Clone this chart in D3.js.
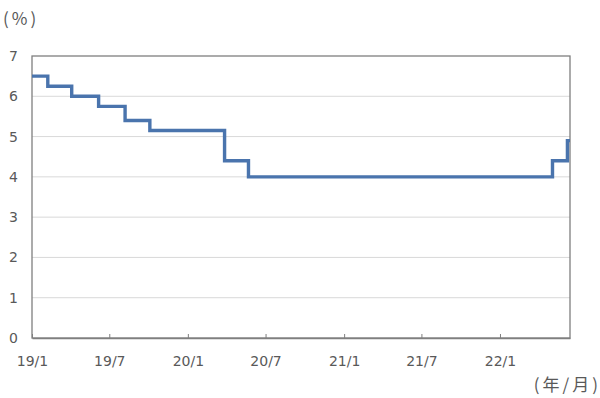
<!DOCTYPE html>
<html>
<head>
<meta charset="utf-8">
<script src="https://cdn.jsdelivr.net/npm/d3@7"></script>
<style>
  body { margin: 0; background: #fff; }
  text { font-family: "DejaVu Sans", "Noto Sans CJK JP", sans-serif; fill: #595959; }
</style>
</head>
<body>
<div id="chart"></div>
<script>
//Size of the picture.
let w = 600
let h = 398

//Plot area edges.
let margin = {left: 32, right: 30, top: 56, bottom: 60}

//Dates the rate changed (last one is the end of the data).
let changeDates = ["2019-01-01", "2019-02-07", "2019-04-04", "2019-06-06", "2019-08-07",
                   "2019-10-04", "2020-03-27", "2020-05-22", "2022-05-04", "2022-06-08", "2022-06-14"]

//Rate in effect from each date.
let rates = [6.5, 6.25, 6.0, 5.75, 5.4, 5.15, 4.4, 4.0, 4.4, 4.9, 4.9]

//Axis ticks.
let yTicks = [0, 1, 2, 3, 4, 5, 6, 7]
let xTickDates = ["2019-01-01", "2019-07-01", "2020-01-01", "2020-07-01",
                  "2021-01-01", "2021-07-01", "2022-01-01"]
let xTickLabels = ["19/1", "19/7", "20/1", "20/7", "21/1", "21/7", "22/1"]

let parse = d3.utcParse("%Y-%m-%d")
let data = changeDates.map((d, i) => ({date: parse(d), rate: rates[i]}))

const svg = d3.select("#chart")
              .append("svg")
              .attr("width", w)
              .attr("height", h)

let x = d3.scaleUtc()
          .domain([parse("2019-01-01"), parse("2022-06-14")])
          .range([margin.left, w - margin.right])

let y = d3.scaleLinear()
          .domain([0, 7])
          .range([h - margin.bottom, margin.top])

//Horizontal gridlines.
svg.selectAll(".grid")
   .data(yTicks.slice(1, -1))
   .enter()
   .append("line")
   .attr("x1", margin.left)
   .attr("x2", w - margin.right)
   .attr("y1", d => y(d))
   .attr("y2", d => y(d))
   .attr("stroke", "#d9d9d9")
   .attr("stroke-width", 1)

//Frame round the plot.
svg.append("rect")
   .attr("x", margin.left)
   .attr("y", margin.top)
   .attr("width", w - margin.left - margin.right)
   .attr("height", h - margin.top - margin.bottom)
   .attr("fill", "none")
   .attr("stroke", "#7f7f7f")
   .attr("stroke-width", 1.3)

//Bottom axis with short ticks pointing up.
let xAxis = d3.axisBottom(x)
              .tickValues(xTickDates.map(parse))
              .tickFormat((d, i) => xTickLabels[i])
              .tickSizeInner(-4)
              .tickSizeOuter(0)
              .tickPadding(18)

svg.append("g")
   .attr("transform", "translate(0," + (h - margin.bottom) + ")")
   .call(xAxis)
   .call(g => g.select(".domain").attr("stroke", "#7f7f7f").attr("stroke-width", 1.3))
   .call(g => g.selectAll(".tick line").attr("stroke", "#7f7f7f"))
   .call(g => g.selectAll(".tick text").attr("font-size", 14).style("fill", "#595959"))

//Left axis labels only.
let yAxis = d3.axisLeft(y)
              .tickValues(yTicks)
              .tickFormat(d3.format("d"))
              .tickSize(0)
              .tickPadding(14)

svg.append("g")
   .attr("transform", "translate(" + margin.left + ",0)")
   .call(yAxis)
   .call(g => g.select(".domain").remove())
   .call(g => g.selectAll(".tick text").attr("font-size", 14).style("fill", "#595959"))

//Step line of the rate.
let line = d3.line()
             .x(d => x(d.date))
             .y(d => y(d.rate))
             .curve(d3.curveStepAfter)

svg.append("path")
   .datum(data)
   .attr("d", line)
   .attr("fill", "none")
   .attr("stroke", "#4a74ad")
   .attr("stroke-width", 3.4)

//Unit labels.
svg.append("text")
   .attr("x", 3)
   .attr("y", 25)
   .attr("font-size", 17)
   .attr("letter-spacing", 3)
   .style("font-family", "'Noto Sans CJK JP', sans-serif")
   .text("(%)")

svg.append("text")
   .attr("x", 601)
   .attr("y", 391)
   .attr("text-anchor", "end")
   .attr("font-size", 17)
   .attr("letter-spacing", 3)
   .style("font-family", "'Noto Sans CJK JP', sans-serif")
   .text("(年/月)")
</script>
</body>
</html>
